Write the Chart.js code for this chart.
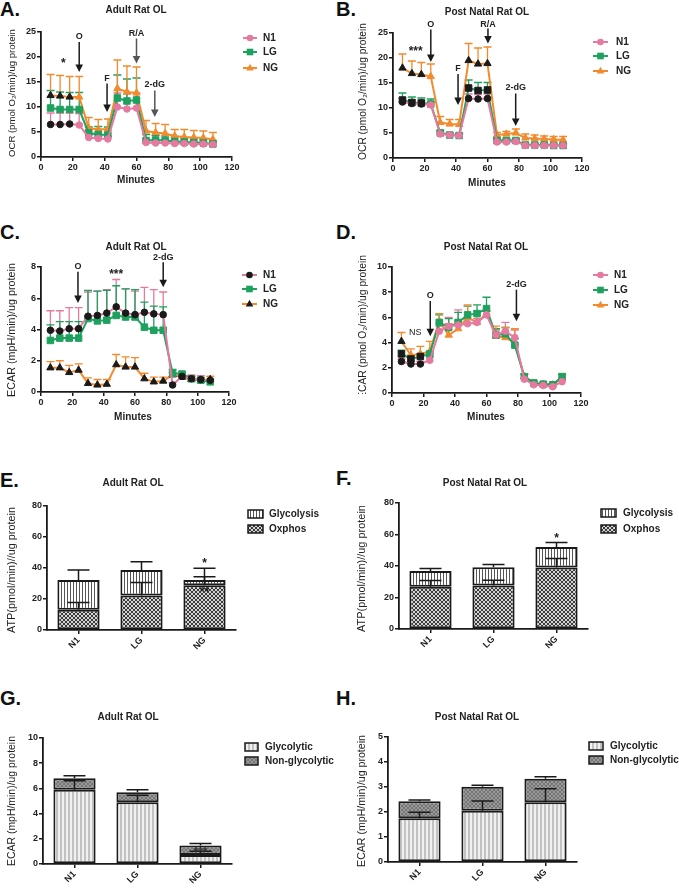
<!DOCTYPE html>
<html>
<head>
<meta charset="utf-8">
<script src="https://cdn.jsdelivr.net/npm/chart.js@4.4.1/dist/chart.umd.min.js"></script>
<style>
  body { margin: 0; background: #fff; width: 679px; height: 888px; position: relative; overflow: hidden; font-family: 'Liberation Sans', Arial, sans-serif; }
  canvas { position: absolute; }
  .letter { position: absolute; font-weight: bold; font-size: 20px; line-height: 20px; color: #111; }
</style>
</head>
<body>
<div class="letter" style="left:0;top:-1px">A.</div>
<div class="letter" style="left:336px;top:-1px">B.</div>
<div class="letter" style="left:0;top:222px">C.</div>
<div class="letter" style="left:336px;top:222px">D.</div>
<div class="letter" style="left:0;top:470px">E.</div>
<div class="letter" style="left:336px;top:468px">F.</div>
<div class="letter" style="left:0;top:688px">G.</div>
<div class="letter" style="left:336px;top:688px">H.</div>
<canvas id="cA"></canvas><canvas id="cB"></canvas>
<canvas id="cC"></canvas><canvas id="cD"></canvas>
<canvas id="cE"></canvas><canvas id="cF"></canvas>
<canvas id="cG"></canvas><canvas id="cH"></canvas>
<script>
// ---- data ----
const times = [6, 12, 18, 24, 30, 36, 42, 48, 54, 60, 66, 72, 78, 84, 90, 96, 102, 108];
const groups = ['N1', 'LG', 'NG'];

// A: OCR, adult
const ocrAdultN1 = [6.5, 6.5, 6.6, 6.4, 3.9, 3.7, 3.6, 10.0, 9.6, 9.8, 2.9, 2.8, 2.8, 2.7, 2.7, 2.6, 2.6, 2.5];
const ocrAdultN1Err = [2.3, 2.3, 2.2, 2.3, 0.6, 0.5, 0.5, 2.8, 3.0, 3.0, 0.4, 0.4, 0.4, 0.4, 0.4, 0.4, 0.4, 0.4];
const ocrAdultLG = [9.8, 9.5, 9.5, 9.5, 4.8, 4.5, 4.4, 11.8, 11.2, 11.4, 3.3, 3.4, 3.3, 3.1, 3.0, 2.9, 2.8, 2.6];
const ocrAdultLGErr = [3.5, 3.5, 3.4, 3.4, 1.2, 1.6, 1.6, 4.6, 4.4, 4.4, 1.2, 0.9, 0.9, 0.9, 0.8, 0.8, 0.7, 0.7];
const ocrAdultNG = [12.3, 12.2, 12.0, 12.0, 5.8, 5.5, 5.6, 13.7, 13.0, 12.8, 5.2, 4.9, 4.7, 4.2, 4.0, 3.9, 3.8, 3.5];
const ocrAdultNGErr = [4.2, 4.1, 4.1, 4.1, 2.1, 2.0, 2.0, 5.7, 5.2, 5.2, 2.1, 1.8, 1.8, 1.3, 1.5, 1.4, 1.4, 1.4];

// B: OCR, post natal
const ocrPostN1 = [11.2, 10.9, 10.8, 10.6, 4.8, 4.6, 4.5, 11.9, 11.8, 11.9, 3.2, 3.2, 3.3, 2.5, 2.5, 2.5, 2.5, 2.5];
const ocrPostN1Err = [0.8, 0.7, 0.7, 0.6, 0.3, 0.3, 0.3, 0.9, 0.9, 0.9, 0.3, 0.3, 0.3, 0.2, 0.2, 0.2, 0.2, 0.2];
const ocrPostLG = [11.6, 11.1, 11.0, 10.8, 5.0, 4.6, 4.5, 14.0, 13.5, 13.6, 3.5, 3.5, 3.5, 2.6, 2.6, 2.6, 2.5, 2.5];
const ocrPostLGErr = [1.4, 1.1, 1.0, 1.0, 0.5, 0.4, 0.4, 1.6, 1.6, 1.5, 0.5, 0.3, 0.3, 0.3, 0.3, 0.3, 0.3, 0.3];
const ocrPostNG = [18.0, 16.9, 16.7, 16.3, 7.1, 6.8, 6.7, 19.5, 18.8, 18.9, 4.6, 4.8, 5.0, 4.0, 3.9, 3.8, 3.7, 3.6];
const ocrPostNGErr = [2.8, 2.5, 2.4, 2.5, 1.2, 0.9, 1.0, 3.4, 3.2, 3.3, 0.5, 0.5, 0.8, 0.8, 0.7, 0.6, 0.6, 0.7];

// C: ECAR, adult
const ecarAdultN1 = [3.95, 3.9, 4.05, 4.05, 4.85, 4.9, 5.05, 5.45, 5.05, 4.95, 5.1, 5.0, 4.95, 0.45, 1.0, 0.85, 0.8, 0.75];
const ecarAdultN1Err = [1.25, 1.3, 1.35, 1.35, 1.55, 1.55, 1.5, 1.75, 1.55, 1.5, 1.6, 1.55, 1.45, 0.15, 0.2, 0.25, 0.25, 0.25];
const ecarAdultLG = [3.3, 3.45, 3.45, 3.45, 4.7, 4.55, 4.6, 4.9, 4.8, 4.8, 4.15, 3.95, 3.95, 1.2, 1.15, 0.85, 0.75, 0.65];
const ecarAdultLGErr = [1.0, 1.05, 1.05, 1.05, 1.8, 1.9, 1.9, 1.9, 1.8, 1.75, 1.6, 1.55, 1.5, 0.25, 0.1, 0.15, 0.15, 0.15];
const ecarAdultNG = [1.55, 1.55, 1.25, 1.4, 0.55, 0.45, 0.5, 1.75, 1.6, 1.6, 0.85, 0.65, 0.7, 1.1, 0.95, 0.8, 0.75, 0.8];
const ecarAdultNGErr = [0.4, 0.45, 0.45, 0.4, 0.35, 0.35, 0.3, 0.65, 0.65, 0.6, 0.35, 0.3, 0.25, 0.15, 0.15, 0.2, 0.2, 0.2];

// D: ECAR, post natal
const ecarPostN1 = [2.5, 2.3, 2.3, 2.6, 4.9, 5.3, 5.4, 5.5, 5.6, 6.2, 4.6, 4.9, 4.4, 1.1, 0.65, 0.6, 0.5, 0.9];
const ecarPostN1Err = [0.2, 0.2, 0.2, 0.2, 0.4, 0.7, 1.2, 0.3, 0.3, 0.3, 0.4, 0.7, 0.6, 0.1, 0.1, 0.1, 0.1, 0.1];
const ecarPostLG = [3.1, 2.7, 2.9, 3.1, 5.6, 5.2, 5.6, 6.2, 6.3, 6.7, 4.6, 4.7, 3.8, 1.3, 0.8, 0.7, 0.65, 1.3];
const ecarPostLGErr = [0.3, 0.3, 0.2, 0.2, 0.6, 0.7, 0.8, 0.7, 0.7, 0.9, 0.5, 0.5, 0.5, 0.2, 0.15, 0.1, 0.1, 0.2];
const ecarPostNG = [4.1, 3.0, 3.1, 3.3, 5.7, 4.6, 5.1, 6.0, 5.6, 6.3, 4.5, 4.4, 4.0, 1.3, 0.75, 0.7, 0.65, 1.2];
const ecarPostNGErr = [0.7, 0.5, 0.6, 0.8, 0.6, 0.9, 0.6, 1.0, 0.9, 0.2, 0.8, 0.8, 1.1, 0.2, 0.15, 0.1, 0.1, 0.3];

// E/F: ATP production
const atpAdultOxphos = [13.0, 22.2, 28.9];
const atpAdultOxphosErr = [4.8, 8.4, 5.5];
const atpAdultGlyco = [19.3, 16.5, 3.4];
const atpAdultGlycoErr = [6.4, 5.3, 7.5];
const atpPostOxphos = [26.8, 27.6, 39.0];
const atpPostOxphosErr = [4.0, 3.4, 5.7];
const atpPostGlyco = [10.1, 11.6, 13.1];
const atpPostGlycoErr = [1.5, 1.7, 2.8];

// G/H: ECAR split
const ecarAdultGlycolytic = [5.9, 4.9, 0.72];
const ecarAdultGlycolyticErr = [0.7, 0.55, 0.3];
const ecarAdultNonGlyc = [0.9, 0.8, 0.74];
const ecarAdultNonGlycErr = [0.2, 0.2, 0.17];
const ecarPostGlycolytic = [1.75, 2.05, 2.39];
const ecarPostGlycolyticErr = [0.24, 0.39, 0.54];
const ecarPostNonGlyc = [0.68, 0.96, 0.94];
const ecarPostNonGlycErr = [0.05, 0.06, 0.08];

// ---- styling ----
const PINK = '#e5799f', GREEN = '#1ea15e', ORANGE = '#f28b2f', INK = '#1a1a1a';
const FONT = "'Liberation Sans', Arial, sans-serif";
Chart.defaults.font.family = FONT;
Chart.defaults.color = '#222';

// pixel boxes of each panel (canvas) and its plot area, page coordinates
const panels = {
    A: { box: { l: 0, t: 0, w: 340, h: 200 }, plot: { left: 41, right: 232, top: 32, bottom: 157 } },
    B: { box: { l: 340, t: 0, w: 339, h: 200 }, plot: { left: 393, right: 582, top: 33, bottom: 158 } },
    C: { box: { l: 0, t: 200, w: 340, h: 240 }, plot: { left: 41, right: 229, top: 267, bottom: 392 } },
    D: { box: { l: 340, t: 200, w: 339, h: 240 }, plot: { left: 392, right: 581, top: 267, bottom: 393 } },
    E: { box: { l: 0, t: 440, w: 340, h: 220 }, plot: { left: 47, right: 236, top: 506, bottom: 630 } },
    F: { box: { l: 340, t: 440, w: 339, h: 220 }, plot: { left: 399, right: 588, top: 503, bottom: 629 } },
    G: { box: { l: 0, t: 660, w: 340, h: 228 }, plot: { left: 43, right: 232, top: 738, bottom: 864 } },
    H: { box: { l: 340, t: 660, w: 339, h: 228 }, plot: { left: 388, right: 577, top: 737, bottom: 862 } }
};

// Function to build a repeating fill pattern
function makePattern(w, h, paint) {
    const c = document.createElement('canvas');
    c.width = w; c.height = h;
    const g = c.getContext('2d');
    paint(g, w, h);
    return g.createPattern(c, 'repeat');
}
const glycoPat = makePattern(3, 3, (g) => {
    g.fillStyle = '#fff'; g.fillRect(0, 0, 3, 3);
    g.fillStyle = '#555'; g.fillRect(1, 0, 1, 3);
});
const oxPat = makePattern(4, 4, (g) => {
    g.fillStyle = '#d4d4d4'; g.fillRect(0, 0, 4, 4);
    g.fillStyle = '#3a3a3a';
    for (let i = 0; i < 4; i++) { g.fillRect(i, i, 1, 1); g.fillRect(3 - i, i, 1, 1); }
});
const glycolyticPat = makePattern(4, 4, (g) => {
    g.fillStyle = '#f0f0f0'; g.fillRect(0, 0, 4, 4);
    g.fillStyle = '#c2c2c2'; g.fillRect(0, 0, 2, 4);
});
const nonGlycPat = makePattern(4, 4, (g) => {
    g.fillStyle = '#9a9a9a'; g.fillRect(0, 0, 4, 4);
    g.fillStyle = '#747474';
    for (let i = 0; i < 4; i++) { g.fillRect(i, i, 1, 1); g.fillRect(3 - i, i, 1, 1); }
});

// Function to make one line series
function lineSet(label, vals, errs, color, style, blackIdx) {
    const pointColors = vals.map((v, i) => blackIdx.includes(i) ? INK : color);
    return {
        label: label,
        data: times.map((t, i) => ({ x: t, y: vals[i] })),
        errs: errs,
        borderColor: color,
        backgroundColor: color,
        borderWidth: 2,
        pointStyle: style,
        pointRadius: style === 'rect' ? 4.6 : (style === 'triangle' ? 4.2 : 3.3),
        pointBackgroundColor: pointColors,
        pointBorderColor: pointColors,
        pointBorderWidth: 1,
        tension: 0
    };
}

function barSet(label, vals, errs, fill) {
    return {
        label: label, data: vals, errs: errs,
        backgroundColor: fill, borderColor: INK, borderWidth: 2, borderSkipped: false,
        categoryPercentage: 1.0, barPercentage: 0.67
    };
}

const range = (a, b) => Array.from({ length: b - a + 1 }, (_, i) => a + i);

// Error bar plugin (upper bars only, GraphPad style)
const errorBarPlugin = {
    id: 'errorBars',
    beforeDatasetsDraw(chart) {
        if (chart.config.type !== 'line') return;
        const ctx = chart.ctx, y = chart.scales.y;
        chart.data.datasets.forEach((ds, di) => {
            const meta = chart.getDatasetMeta(di);
            ctx.save();
            ctx.strokeStyle = ds.borderColor;
            ctx.lineWidth = 1.3;
            meta.data.forEach((pt, i) => {
                const top = y.getPixelForValue(ds.data[i].y + ds.errs[i]);
                ctx.beginPath();
                ctx.moveTo(pt.x, pt.y); ctx.lineTo(pt.x, top);
                ctx.moveTo(pt.x - 4, top); ctx.lineTo(pt.x + 4, top);
                ctx.stroke();
            });
            ctx.restore();
        });
    },
    afterDatasetsDraw(chart) {
        if (chart.config.type !== 'bar') return;
        const ctx = chart.ctx, y = chart.scales.y;
        chart.data.datasets.forEach((ds, di) => {
            const meta = chart.getDatasetMeta(di);
            ctx.save();
            ctx.strokeStyle = INK;
            ctx.lineWidth = 1.5;
            meta.data.forEach((bar, i) => {
                let top = 0;
                for (let k = 0; k <= di; k++) top += chart.data.datasets[k].data[i];
                const y0 = y.getPixelForValue(top), y1 = y.getPixelForValue(top + ds.errs[i]);
                ctx.beginPath();
                ctx.moveTo(bar.x, y0); ctx.lineTo(bar.x, y1);
                ctx.moveTo(bar.x - 11, y1); ctx.lineTo(bar.x + 11, y1);
                ctx.stroke();
            });
            ctx.restore();
        });
    }
};

// Function to get drawing helpers in page coordinates
function painter(chart, box) {
    const ctx = chart.ctx;
    const X = v => chart.scales.x.getPixelForValue(v);
    const Y = v => chart.scales.y.getPixelForValue(v);
    function marker(style, x, y, color) {
        ctx.fillStyle = color;
        ctx.beginPath();
        if (style === 'circle') ctx.arc(x, y, 3.3, 0, Math.PI * 2);
        else if (style === 'rect') ctx.rect(x - 3.3, y - 3.3, 6.6, 6.6);
        else { ctx.moveTo(x, y - 4.2); ctx.lineTo(x + 3.8, y + 2.6); ctx.lineTo(x - 3.8, y + 2.6); ctx.closePath(); }
        ctx.fill();
    }
    return {
        ctx, X, Y,
        text(str, px, py, font, align, color) {
            ctx.save();
            ctx.font = font; ctx.fillStyle = color || '#222';
            ctx.textAlign = align || 'center'; ctx.textBaseline = 'middle';
            ctx.fillText(str, px - box.l, py - box.t);
            ctx.restore();
        },
        dataText(str, xv, yv, font, color) {
            ctx.save();
            ctx.font = font; ctx.fillStyle = color || '#222';
            ctx.textAlign = 'center'; ctx.textBaseline = 'middle';
            ctx.fillText(str, X(xv), Y(yv));
            ctx.restore();
        },
        // rotated axis title sized to fill a measured span
        ytitle(str, px, yTop, yBottom, weight, clipBottom) {
            ctx.save();
            ctx.font = (weight || 'normal') + ' 10px ' + FONT;
            const size = 10 * (yBottom - yTop) / ctx.measureText(str).width;
            ctx.font = (weight || 'normal') + ' ' + size.toFixed(2) + 'px ' + FONT;
            if (clipBottom) { ctx.beginPath(); ctx.rect(0, 0, 400, clipBottom - box.t); ctx.clip(); }
            ctx.translate(px - box.l, (yTop + yBottom) / 2 - box.t);
            ctx.rotate(-Math.PI / 2);
            ctx.fillStyle = '#222'; ctx.textAlign = 'center'; ctx.textBaseline = 'middle';
            ctx.fillText(str, 0, 0);
            ctx.restore();
        },
        arrow(label, xv, labelV, fromV, toV, color) {
            const x = X(xv), a = Y(fromV), b = Y(toV);
            ctx.save();
            ctx.strokeStyle = color; ctx.fillStyle = color; ctx.lineWidth = 1.5;
            ctx.beginPath(); ctx.moveTo(x, a); ctx.lineTo(x, b - 6); ctx.stroke();
            ctx.beginPath(); ctx.moveTo(x - 3.8, b - 7.5); ctx.lineTo(x + 3.8, b - 7.5); ctx.lineTo(x, b); ctx.closePath(); ctx.fill();
            ctx.font = 'bold 9px ' + FONT; ctx.textAlign = 'center'; ctx.textBaseline = 'middle';
            ctx.fillStyle = '#222';
            ctx.fillText(label, x, Y(labelV));
            ctx.restore();
        },
        lineLegend(x0, x1, tx, rows, items) {
            ctx.save();
            items.forEach((it, i) => {
                const y = rows[i] - box.t;
                ctx.strokeStyle = it.color; ctx.lineWidth = 2;
                ctx.beginPath(); ctx.moveTo(x0 - box.l, y); ctx.lineTo(x1 - box.l, y); ctx.stroke();
                marker(it.style, (x0 + x1) / 2 - box.l, y, it.mark || it.color);
                ctx.font = 'bold 10px ' + FONT; ctx.fillStyle = '#222';
                ctx.textAlign = 'left'; ctx.textBaseline = 'middle';
                ctx.fillText(it.label, tx - box.l, y);
            });
            ctx.restore();
        },
        boxLegend(x0, x1, tx, rows, items) {
            ctx.save();
            items.forEach((it, i) => {
                const y = rows[i] - box.t;
                ctx.fillStyle = it.fill;
                ctx.fillRect(x0 - box.l, y - 4, x1 - x0, 8);
                ctx.strokeStyle = INK; ctx.lineWidth = 1.5;
                ctx.strokeRect(x0 - box.l, y - 4, x1 - x0, 8);
                ctx.font = 'bold 10px ' + FONT; ctx.fillStyle = '#222';
                ctx.textAlign = 'left'; ctx.textBaseline = 'middle';
                ctx.fillText(it.label, tx - box.l, y);
            });
            ctx.restore();
        }
    };
}

function axisBase() {
    return {
        grid: { display: true, drawOnChartArea: false, drawTicks: true, tickLength: 4, color: INK, lineWidth: 1.5, offset: false },
        border: { display: true, color: INK, width: 1.8 }
    };
}

// Function to build one panel
function buildPanel(key, type, datasets, xOpts, yOpts, decor) {
    const P = panels[key];
    const canvas = document.getElementById('c' + key);
    canvas.width = P.box.w; canvas.height = P.box.h;
    canvas.style.left = P.box.l + 'px'; canvas.style.top = P.box.t + 'px';
    const xH = P.box.t + P.box.h - 2 - P.plot.bottom;
    const yW = P.plot.left - P.box.l;
    const tickFont = { size: 9, weight: 'bold' };

    return new Chart(canvas, {
        type: type,
        data: { labels: type === 'bar' ? groups : undefined, datasets: datasets },
        options: {
            responsive: false, animation: false, devicePixelRatio: 1,
            layout: { padding: { left: 0, top: P.plot.top - P.box.t, right: P.box.l + P.box.w - P.plot.right, bottom: 2 } },
            plugins: { legend: { display: false }, tooltip: { enabled: false }, title: { display: false } },
            scales: {
                x: Object.assign(axisBase(), xOpts, {
                    ticks: Object.assign({ color: '#222', font: tickFont, padding: 1 }, xOpts.ticks || {}),
                    afterFit: s => { s.height = xH; }
                }),
                y: Object.assign(axisBase(), yOpts, {
                    ticks: Object.assign({ color: '#222', font: tickFont, padding: 1 }, yOpts.ticks || {}),
                    afterFit: s => { s.width = yW; }
                })
            }
        },
        plugins: [errorBarPlugin, { id: 'decor', afterDraw: c => decor(painter(c, P.box)) }]
    });
}

const minutesAxis = { type: 'linear', min: 0, max: 120, ticks: { stepSize: 20 } };
const groupAxis = { type: 'category', stacked: true, offset: true, ticks: { minRotation: 45, maxRotation: 45, autoSkip: false } };
const TITLE = 'bold 10px ' + FONT;
const XTITLE = 'bold 10px ' + FONT;
const STAR = 'bold 12px ' + FONT;

// ---- A ----
buildPanel('A', 'line', [
    lineSet('N1', ocrAdultN1, ocrAdultN1Err, PINK, 'circle', [0, 1, 2]),
    lineSet('LG', ocrAdultLG, ocrAdultLGErr, GREEN, 'rect', []),
    lineSet('NG', ocrAdultNG, ocrAdultNGErr, ORANGE, 'triangle', [0, 1, 2])
], minutesAxis, { min: 0, max: 25, ticks: { stepSize: 5 } }, (h) => {
    h.text('Adult Rat OL', 136, 10, TITLE);
    h.ytitle('OCR (pmol O\u2082/min)/ug protein', 12, 29, 157);
    h.text('Minutes', 136, 180, XTITLE);
    h.lineLegend(243, 257, 263, [38, 52, 68], [
        { label: 'N1', color: PINK, style: 'circle' },
        { label: 'LG', color: GREEN, style: 'rect' },
        { label: 'NG', color: ORANGE, style: 'triangle' }
    ]);
    h.dataText('*', 14, 18.6, STAR);
    h.arrow('O', 24, 24.1, 23, 17, INK);
    h.arrow('F', 41.5, 15.6, 14.7, 9, INK);
    h.arrow('R/A', 60, 24.7, 23.7, 18.7, '#555');
    h.arrow('2-dG', 71.5, 14.5, 13.3, 8, '#555');
});

// ---- B ----
const postBlack = [0, 1, 2, 7, 8, 9];
buildPanel('B', 'line', [
    lineSet('N1', ocrPostN1, ocrPostN1Err, PINK, 'circle', postBlack),
    lineSet('LG', ocrPostLG, ocrPostLGErr, GREEN, 'rect', postBlack),
    lineSet('NG', ocrPostNG, ocrPostNGErr, ORANGE, 'triangle', postBlack)
], minutesAxis, { min: 0, max: 25, ticks: { stepSize: 5 } }, (h) => {
    h.text('Post Natal Rat OL', 487, 12, TITLE);
    h.ytitle('OCR (pmol O\u2082/min)/ug protein', 363, 23, 160);
    h.text('Minutes', 487, 183, XTITLE);
    h.lineLegend(593, 608, 616, [42, 56, 71], [
        { label: 'N1', color: PINK, style: 'circle' },
        { label: 'LG', color: GREEN, style: 'rect' },
        { label: 'NG', color: ORANGE, style: 'triangle' }
    ]);
    h.dataText('***', 14.4, 21.2, STAR);
    h.arrow('O', 24, 26.7, 25.7, 19.2, INK);
    h.arrow('F', 41.3, 17.9, 16.8, 10.6, INK);
    h.arrow('R/A', 60.3, 26.7, 25.9, 22.9, INK);
    h.arrow('2-dG', 77.9, 14.1, 12.9, 6.4, INK);
});

// ---- C ----
buildPanel('C', 'line', [
    lineSet('N1', ecarAdultN1, ecarAdultN1Err, PINK, 'circle', range(0, 17)),
    lineSet('LG', ecarAdultLG, ecarAdultLGErr, GREEN, 'rect', []),
    lineSet('NG', ecarAdultNG, ecarAdultNGErr, ORANGE, 'triangle', range(0, 17))
], minutesAxis, { min: 0, max: 8, ticks: { stepSize: 2 } }, (h) => {
    h.text('Adult Rat OL', 136, 247, TITLE);
    h.ytitle('ECAR (mpH/min)/ug protein', 12, 263, 397);
    h.text('Minutes', 133, 417, XTITLE);
    h.lineLegend(242, 257, 263, [275, 289, 304], [
        { label: 'N1', color: PINK, style: 'circle', mark: INK },
        { label: 'LG', color: GREEN, style: 'rect' },
        { label: 'NG', color: ORANGE, style: 'triangle', mark: INK }
    ]);
    h.dataText('***', 48, 7.5, STAR);
    h.arrow('O', 23.6, 8.0, 7.7, 5.7, INK);
    h.arrow('2-dG', 78, 8.6, 8.3, 6.7, INK);
});

// ---- D ----
buildPanel('D', 'line', [
    lineSet('N1', ecarPostN1, ecarPostN1Err, PINK, 'circle', [0, 1, 2]),
    lineSet('LG', ecarPostLG, ecarPostLGErr, GREEN, 'rect', [0, 1, 2]),
    lineSet('NG', ecarPostNG, ecarPostNGErr, ORANGE, 'triangle', [0])
], minutesAxis, { min: 0, max: 10, ticks: { stepSize: 2 } }, (h) => {
    h.text('Post Natal Rat OL', 486, 247, TITLE);
    h.ytitle('ECAR (pmol O\u2082/min)/ug protein', 363, 255, 399, 'normal', 394);
    h.text('Minutes', 486, 417, XTITLE);
    h.lineLegend(593, 608, 614, [275, 290, 305], [
        { label: 'N1', color: PINK, style: 'circle' },
        { label: 'LG', color: GREEN, style: 'rect' },
        { label: 'NG', color: ORANGE, style: 'triangle' }
    ]);
    h.dataText('NS', 14.8, 4.8, '9px ' + FONT);
    h.arrow('O', 24.3, 7.7, 7.3, 4.5, INK);
    h.arrow('2-dG', 79, 8.6, 8.2, 5.7, INK);
});

// ---- E ----
buildPanel('E', 'bar', [
    barSet('Oxphos', atpAdultOxphos, atpAdultOxphosErr, oxPat),
    barSet('Glycolysis', atpAdultGlyco, atpAdultGlycoErr, glycoPat)
], groupAxis, { stacked: true, min: 0, max: 80, ticks: { stepSize: 20 } }, (h) => {
    h.text('Adult Rat OL', 133, 483, TITLE);
    h.ytitle('ATP(pmol/min)//ug protein', 12, 507, 633);
    h.boxLegend(248, 263, 269, [514, 529], [
        { label: 'Glycolysis', fill: glycoPat },
        { label: 'Oxphos', fill: oxPat }
    ]);
    h.dataText('*', 2, 42.8, STAR);
    h.dataText('**', 2, 24.3, STAR, INK);
});

// ---- F ----
buildPanel('F', 'bar', [
    barSet('Oxphos', atpPostOxphos, atpPostOxphosErr, oxPat),
    barSet('Glycolysis', atpPostGlyco, atpPostGlycoErr, glycoPat)
], groupAxis, { stacked: true, min: 0, max: 80, ticks: { stepSize: 20 } }, (h) => {
    h.text('Post Natal Rat OL', 485, 483, TITLE);
    h.ytitle('ATP(pmol/min)//ug protein', 362, 505, 632);
    h.boxLegend(601, 616, 623, [513, 529], [
        { label: 'Glycolysis', fill: glycoPat },
        { label: 'Oxphos', fill: oxPat }
    ]);
    h.dataText('*', 2, 57.6, STAR);
});

// ---- G ----
buildPanel('G', 'bar', [
    barSet('Glycolytic', ecarAdultGlycolytic, ecarAdultGlycolyticErr, glycolyticPat),
    barSet('Non-glycolytic', ecarAdultNonGlyc, ecarAdultNonGlycErr, nonGlycPat)
], groupAxis, { stacked: true, min: 0, max: 10, ticks: { stepSize: 2 } }, (h) => {
    h.text('Adult Rat OL', 128, 717, TITLE);
    h.ytitle('ECAR (mpH/min)/ug protein', 12, 736, 866);
    h.boxLegend(245, 258, 265, [747, 761], [
        { label: 'Glycolytic', fill: glycolyticPat },
        { label: 'Non-glycolytic', fill: nonGlycPat }
    ]);
    h.dataText('***', 2, 0.9, STAR, '#333');
});

// ---- H ----
buildPanel('H', 'bar', [
    barSet('Glycolytic', ecarPostGlycolytic, ecarPostGlycolyticErr, glycolyticPat),
    barSet('Non-glycolytic', ecarPostNonGlyc, ecarPostNonGlycErr, nonGlycPat)
], groupAxis, { stacked: true, min: 0, max: 5, ticks: { stepSize: 1 } }, (h) => {
    h.text('Post Natal Rat OL', 477, 717, TITLE);
    h.ytitle('ECAR (mpH/min)/ug protein', 362, 735, 867);
    h.boxLegend(589, 603, 610, [746, 760], [
        { label: 'Glycolytic', fill: glycolyticPat },
        { label: 'Non-glycolytic', fill: nonGlycPat }
    ]);
});
</script>
</body>
</html>
